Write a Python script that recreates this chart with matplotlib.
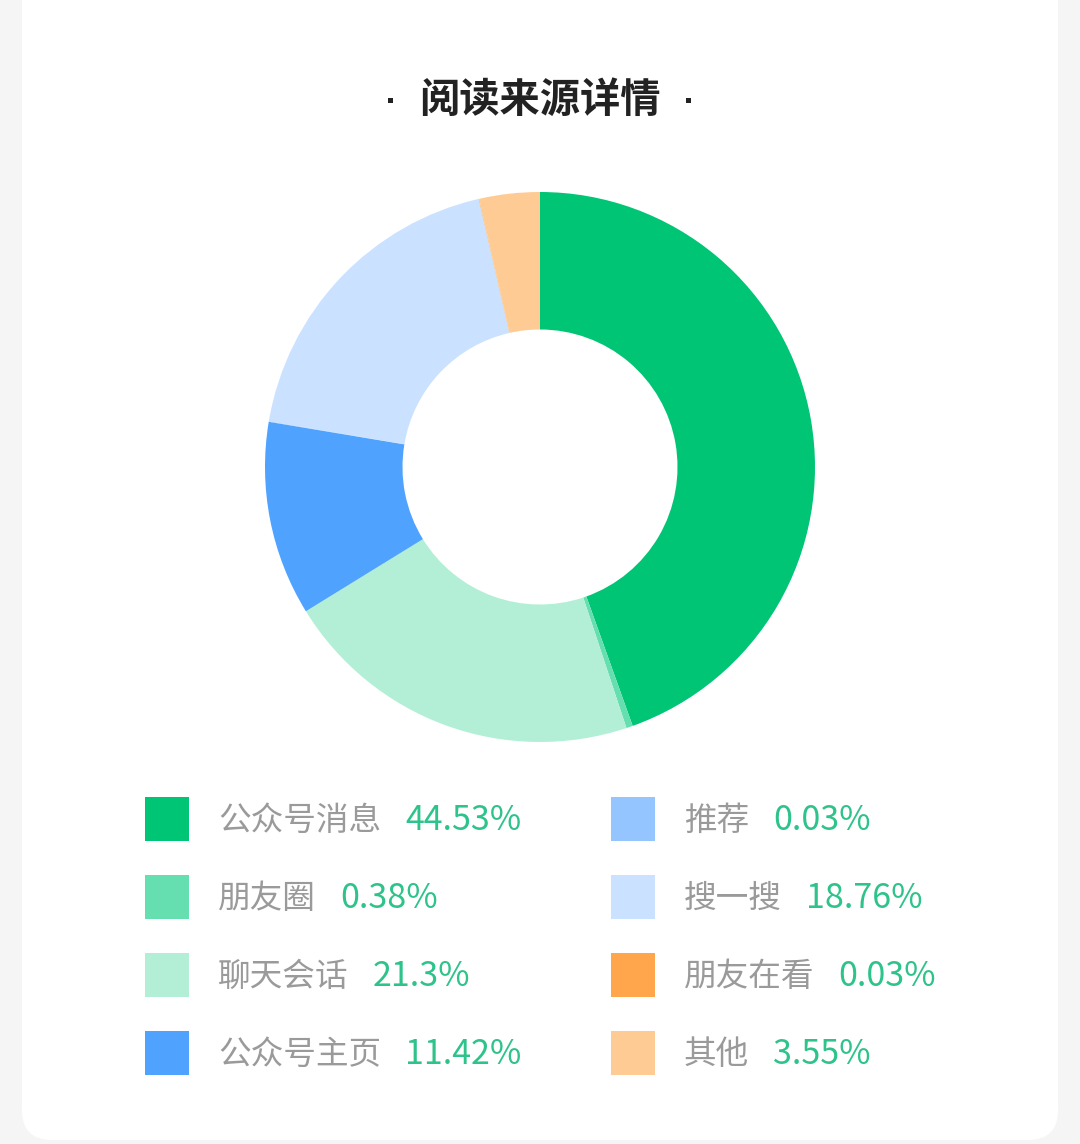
import matplotlib
matplotlib.use("Agg")
import matplotlib.pyplot as plt
from matplotlib.patches import FancyBboxPatch, Rectangle

plt.rcParams['font.family'] = ['Noto Sans CJK SC', 'DejaVu Sans']

labels = ["公众号消息", "朋友圈", "聊天会话", "公众号主页", "推荐", "搜一搜", "朋友在看", "其他"]
values = [44.53, 0.38, 21.3, 11.42, 0.03, 18.76, 0.03, 3.55]
pct_text = ["44.53%", "0.38%", "21.3%", "11.42%", "0.03%", "18.76%", "0.03%", "3.55%"]
colors = ["#00c574", "#66dfb0", "#b3efd6", "#4fa3ff", "#94c5ff", "#cae2ff", "#ffa64d", "#ffcb94"]

W, H = 1080, 1144
fig = plt.figure(figsize=(W / 100, H / 100), dpi=100, facecolor="#f5f5f5")

# background card, pixel coordinates (y from top)
bg = fig.add_axes([0, 0, 1, 1])
bg.set_xlim(0, W)
bg.set_ylim(H, 0)
bg.axis("off")
bg.add_patch(FancyBboxPatch((22, -100), 1036, 1240, boxstyle="round,pad=0,rounding_size=30",
                            facecolor="white", edgecolor="none"))

bg.text(540, 100, "阅读来源详情", ha="center", va="center", fontsize=29,
        fontweight="bold", color="#222222")
for dx in (390, 688):
    bg.add_patch(Rectangle((dx - 2.5, 97.5), 5, 5, facecolor="#222222", edgecolor="none"))

# donut
cx, cy, r = 540, 467, 275
ax = fig.add_axes([(cx - r) / W, (H - cy - r) / H, 2 * r / W, 2 * r / H])
ax.pie(values, colors=colors, startangle=90, counterclock=False, radius=1,
       wedgeprops=dict(width=0.5, linewidth=0))
ax.set_xlim(-1, 1)
ax.set_ylim(-1, 1)
ax.set_aspect("equal")
ax.axis("off")

# legend: two columns of four
fig.canvas.draw()
renderer = fig.canvas.get_renderer()
row_y = [819, 897, 975, 1053]
col_x = [145, 611]
for i, (lab, pct, c) in enumerate(zip(labels, pct_text, colors)):
    col, row = divmod(i, 4)
    x0, y0 = col_x[col], row_y[row]
    bg.add_patch(Rectangle((x0, y0 - 22), 44, 44, facecolor=c, edgecolor="none"))
    t = bg.text(x0 + 73, y0 + 2, lab, ha="left", va="center", fontsize=23.5, color="#9a9a9a")
    bb = t.get_window_extent(renderer=renderer)
    bg.text(x0 + 73 + bb.width + 24, y0 + 2, pct, ha="left", va="center", fontsize=24.5,
            color="#2ec38a")

fig.savefig("out.png", dpi=100, facecolor=fig.get_facecolor())
